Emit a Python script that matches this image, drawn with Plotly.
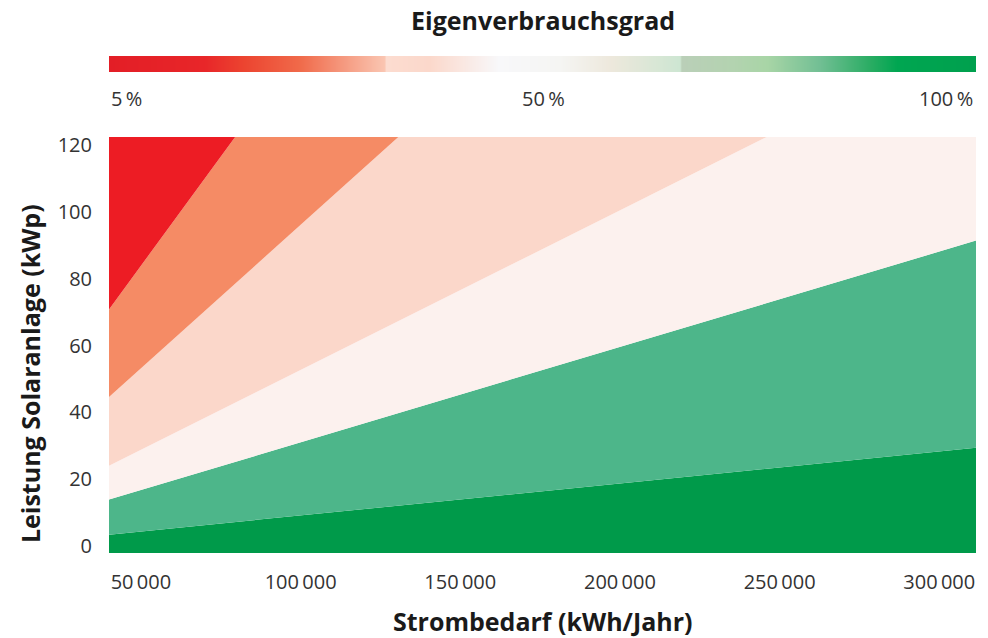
import plotly.graph_objects as go
import numpy as np

# ---- data ----
x_demand = [40000, 311500]                    # kWh/Jahr, ends of plotted range
boundary_1 = [3.4, 29.4]                      # top of darkest green band (kWp)
boundary_2 = [13.9, 91.4]                     # top of light green band
boundary_3 = [24.0, 153.7]                    # top of pale band
boundary_4 = [44.6, 277.7]                    # top of light salmon band
boundary_5 = [70.8, 425.4]                    # top of orange band
band_colors = ["#009A4A", "#4DB68A", "#FCF1EE", "#FBD7CA", "#F58B65", "#ED1C24"]

x_tickvals = [50000, 100000, 150000, 200000, 250000, 300000]
x_ticktext = ["50\u2009000", "100\u2009000", "150\u2009000", "200\u2009000", "250\u2009000", "300\u2009000"]
y_tickvals = [0, 20, 40, 60, 80, 100, 120]

legend_labels = ["5\u2009%", "50\u2009%", "100\u2009%"]
gradient_stops = [0.0, 0.11, 0.155, 0.22, 0.318, 0.3195, 0.37, 0.45, 0.52, 0.58, 0.659, 0.661,
                  0.72, 0.76, 0.82, 0.88, 0.91, 1.0]
gradient_colors = ["#E31E26", "#E82629", "#EC4430", "#F06A4A", "#FAC6B2", "#FCDCD0", "#FBD8CB",
                   "#F8F8FA", "#F5F5F3", "#EDE8DC", "#CDE6D2", "#BACFB8", "#B3D3B0", "#A8D5A6",
                   "#72BF94", "#28AC62", "#00A651", "#00A04E"]

FONT = "Open Sans"
fig = go.Figure()

# baseline below the plot
fig.add_trace(go.Scatter(x=x_demand, y=[-10, -10], mode="lines", line=dict(width=0),
                         showlegend=False, hoverinfo="skip"))
uppers = [boundary_1, boundary_2, boundary_3, boundary_4, boundary_5, [600, 600]]
for upper, col in zip(uppers, band_colors):
    fig.add_trace(go.Scatter(x=x_demand, y=upper, mode="lines", line=dict(width=0),
                             fill="tonexty", fillcolor=col, showlegend=False, hoverinfo="skip"))

# gradient bar (legend)
n = 867
gx = np.linspace(0, 1, n)
fig.add_trace(go.Heatmap(x=gx, y=[0.5], z=[gx], xaxis="x2", yaxis="y2",
                         colorscale=[[s, c] for s, c in zip(gradient_stops, gradient_colors)],
                         zmin=0, zmax=1, showscale=False, hoverinfo="skip"))

tick_font = dict(family=FONT, size=20, color="#333333")
fig.update_layout(
    width=988, height=638,
    margin=dict(l=109, r=12, t=56, b=85),
    paper_bgcolor="white", plot_bgcolor="white",
    xaxis=dict(range=[40000, 311500], tickvals=x_tickvals, ticktext=x_ticktext,
               showgrid=False, zeroline=False, showline=False, ticks="outside",
               ticklen=11, tickcolor="rgba(0,0,0,0)", tickfont=tick_font, anchor="y"),
    yaxis=dict(range=[-2.09, 122.39], domain=[0, 0.837], tickvals=y_tickvals,
               showgrid=False, zeroline=False, showline=False, ticks="outside",
               ticklen=12, tickcolor="rgba(0,0,0,0)", tickfont=tick_font, anchor="x"),
    xaxis2=dict(range=[0, 1], domain=[0, 1], anchor="y2", visible=False),
    yaxis2=dict(range=[0, 1], domain=[0.9678, 1.0], anchor="x2", visible=False),
    showlegend=False,
)

title_font = dict(family=FONT, size=25, color="#1A1A1A")
fig.add_annotation(text="<b>Eigenverbrauchsgrad</b>", xref="paper", yref="paper",
                   x=0.5006, y=1.0724, xanchor="center", yanchor="middle",
                   showarrow=False, font=title_font)
fig.add_annotation(text="<b>Strombedarf (kWh/Jahr)</b>", xref="paper", yref="paper",
                   x=0.5006, y=-0.1368, xanchor="center", yanchor="middle",
                   showarrow=False, font=title_font)
fig.add_annotation(text="<b>Leistung Solaranlage (kWp)</b>", xref="paper", yref="paper",
                   x=-0.0911, y=0.360, xanchor="center", yanchor="middle", textangle=-90,
                   showarrow=False, font=title_font)

label_y = 0.9135
fig.add_annotation(text=legend_labels[0], xref="paper", yref="paper", x=0.0, y=label_y,
                   xanchor="left", yanchor="middle", showarrow=False, font=tick_font)
fig.add_annotation(text=legend_labels[1], xref="paper", yref="paper", x=0.5006, y=label_y,
                   xanchor="center", yanchor="middle", showarrow=False, font=tick_font)
fig.add_annotation(text=legend_labels[2], xref="paper", yref="paper", x=0.999, y=label_y,
                   xanchor="right", yanchor="middle", showarrow=False, font=tick_font)

fig.write_html("out.html", config={"displayModeBar": False},
               post_script="document.body.style.margin='0';")
